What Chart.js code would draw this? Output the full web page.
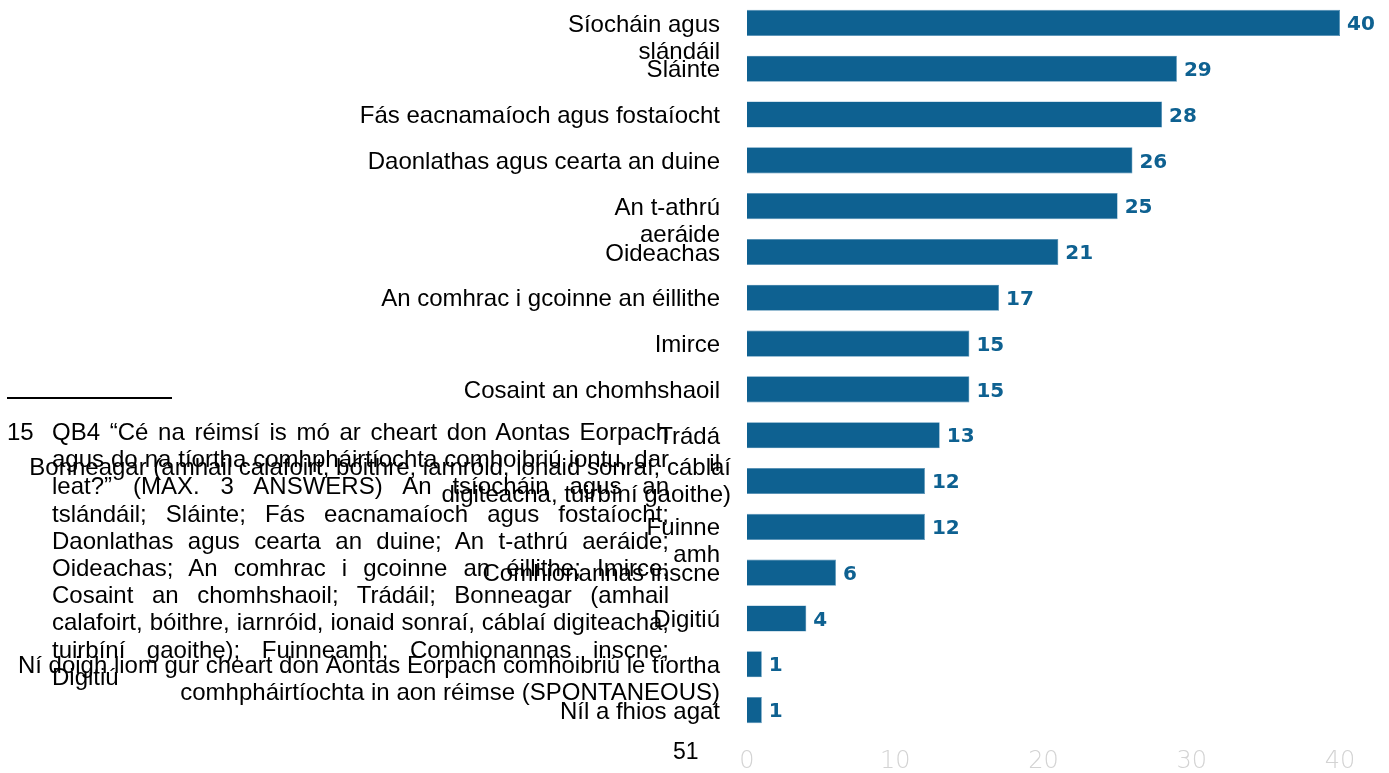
<!DOCTYPE html>
<html lang="ga">
<head>
<meta charset="utf-8">
<title>QB4 - réimsí comhoibrithe</title>
<script src="https://cdn.jsdelivr.net/npm/chart.js@4.4.1/dist/chart.umd.min.js"></script>
<style>
    html, body { margin: 0; padding: 0; background: #ffffff; }
    #contenedor { position: relative; width: 1389px; height: 773px; overflow: hidden; }
    #ChartReimsi { position: absolute; left: 0; top: 0; }
    .nota { position: absolute; left: 52px; width: 617px; height: 27px; line-height: 27px;
            font-family: "Liberation Sans", Arial, sans-serif; font-size: 24px; color: #000;
            white-space: nowrap; transform-origin: left center; }
    #numeroNota { position: absolute; left: 7px; top: 418px; line-height: 27px;
                  font-family: "Liberation Sans", Arial, sans-serif; font-size: 24px; color: #000; }
    #raya { position: absolute; left: 7px; top: 397px; width: 165px; height: 2px; background: #000; }
    #pagina { position: absolute; left: 673px; top: 738px; line-height: 27px;
              font-family: "Liberation Sans", Arial, sans-serif; font-size: 23px; color: #000; }
</style>
</head>
<body>
<div id="contenedor">
    <canvas id="ChartReimsi" width="1389" height="773"></canvas>
    <div id="raya"></div>
    <div id="numeroNota">15</div>
    <div id="notas"></div>
    <div id="pagina">51</div>
</div>
<script>
// Datos del gráfico
const categorias = [
    ['Síocháin agus', 'slándáil'],
    ['Sláinte'],
    ['Fás eacnamaíoch agus fostaíocht'],
    ['Daonlathas agus cearta an duine'],
    ['An t-athrú', 'aeráide'],
    ['Oideachas'],
    ['An comhrac i gcoinne an éillithe'],
    ['Imirce'],
    ['Cosaint an chomhshaoil'],
    ['Trádá', 'il'],
    ['Bonneagar (amhail calafoirt, bóithre, iarnróid, ionaid sonraí, cáblaí', 'digiteacha, tuirbíní gaoithe)'],
    ['Fuinne', 'amh'],
    ['Comhionannas inscne'],
    ['Digitiú'],
    ['Ní doigh liom gur cheart don Aontas Eorpach comhoibriú le tíortha', 'comhpháirtíochta in aon réimse (SPONTANEOUS)'],
    ['Níl a fhios agat']
];
const valores = [40, 29, 28, 26, 25, 21, 17, 15, 15, 13, 12, 12, 6, 4, 1, 1];
const ticksX = [0, 10, 20, 30, 40];

// Texto de la nota al pie (líneas tal como aparecen)
const lineasNota = [
    'QB4 “Cé na réimsí is mó ar cheart don Aontas Eorpach',
    'agus do na tíortha comhpháirtíochta comhoibriú iontu, dar',
    'leat?” (MAX. 3 ANSWERS) An tsíocháin agus an',
    'tslándáil; Sláinte; Fás eacnamaíoch agus fostaíocht;',
    'Daonlathas agus cearta an duine; An t-athrú aeráide;',
    'Oideachas; An comhrac i gcoinne an éillithe; Imirce;',
    'Cosaint an chomhshaoil; Trádáil; Bonneagar (amhail',
    'calafoirt, bóithre, iarnróid, ionaid sonraí, cáblaí digiteacha,',
    'tuirbíní gaoithe); Fuinneamh; Comhionannas inscne;',
    'Digitiú'
];

const colorBarra = '#0e6191';

// Plugin: etiquetas de categoría a la izquierda
const etiquetasCategoria = {
    id: 'etiquetasCategoria',
    afterDraw(chart) {
        const ctx = chart.ctx;
        const escalaY = chart.scales.y;
        ctx.save();
        ctx.font = '24px "Liberation Sans", Arial, sans-serif';
        ctx.fillStyle = '#000';
        ctx.textAlign = 'right';
        ctx.textBaseline = 'middle';
        categorias.forEach((lineas, i) => {
            const y = escalaY.getPixelForValue(i);
            // la etiqueta de Bonneagar va centrada y algo más a la derecha
            const centrada = lineas[0].includes('(');
            const x = centrada ? 731 : 720;
            const y0 = centrada ? y - 13 : y + 2;
            lineas.forEach((texto, j) => {
                ctx.fillText(texto, x, y0 + j * 27, 702);
            });
        });
        ctx.restore();
    }
};

// Plugin: valores al final de cada barra
const valoresBarra = {
    id: 'valoresBarra',
    afterDatasetsDraw(chart) {
        const ctx = chart.ctx;
        const meta = chart.getDatasetMeta(0);
        ctx.save();
        ctx.font = 'bold 20px "DejaVu Sans", sans-serif';
        ctx.fillStyle = colorBarra;
        ctx.textAlign = 'left';
        ctx.textBaseline = 'middle';
        meta.data.forEach((barra, i) => {
            ctx.fillText(String(valores[i]), barra.x + 7, barra.y + 2);
        });
        ctx.restore();
    }
};

function crearGrafico() {
    const ctx = document.getElementById('ChartReimsi').getContext('2d');
    new Chart(ctx, {
        type: 'bar',
        data: {
            labels: categorias.map(l => l.join(' ')),
            datasets: [{
                data: valores,
                backgroundColor: colorBarra,
                borderColor: '#4d8cb4',
                borderWidth: 0.6,
                barPercentage: 0.57,
                categoryPercentage: 1
            }]
        },
        options: {
            indexAxis: 'y',
            responsive: false,
            animation: false,
            layout: { padding: { left: 747, right: 49, top: 0, bottom: -18 } },
            scales: {
                x: {
                    min: 0,
                    max: 40,
                    afterBuildTicks: axis => { axis.ticks = ticksX.map(v => ({ value: v })); },
                    grid: { display: false, drawTicks: false },
                    border: { display: false },
                    ticks: {
                        padding: 17,
                        color: '#d3d3d3',
                        font: { family: '"DejaVu Sans", sans-serif', size: 24, weight: '200', lineHeight: 1 }
                    }
                },
                y: { display: false }
            },
            plugins: {
                legend: { display: false },
                tooltip: { enabled: false }
            }
        },
        plugins: [etiquetasCategoria, valoresBarra]
    });
}

// Nota al pie: cada línea justificada o comprimida según su ancho
function crearNota() {
    const cont = document.getElementById('notas');
    const ancho = 617;
    lineasNota.forEach((texto, i) => {
        const div = document.createElement('div');
        div.className = 'nota';
        div.style.top = (418 + i * 27.2) + 'px';
        const span = document.createElement('span');
        span.textContent = texto;
        div.appendChild(span);
        cont.appendChild(div);
        const w = span.getBoundingClientRect().width;
        const huecos = texto.split(' ').length - 1;
        if (i === lineasNota.length - 1) return;
        if (w > ancho) {
            div.style.transform = 'scaleX(' + (ancho / w) + ')';
        } else if (huecos > 0) {
            span.style.wordSpacing = ((ancho - w) / huecos) + 'px';
        }
    });
}

document.addEventListener('DOMContentLoaded', function () {
    crearGrafico();
    crearNota();
});
</script>
</body>
</html>
